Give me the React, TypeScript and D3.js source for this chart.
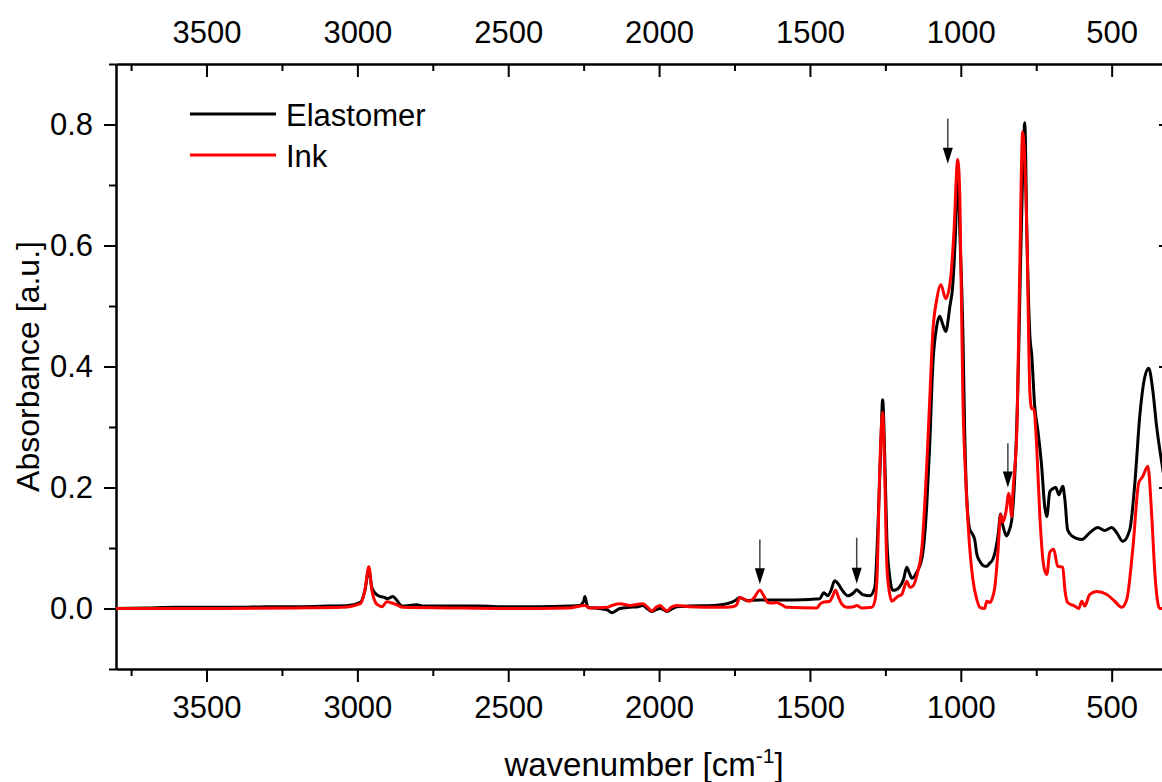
import React, { useEffect, useRef } from 'react';
import * as d3 from 'd3';

// wavenumber [cm-1] / absorbance pairs
const elastomerWn = [3800, 3700, 3600, 3500, 3400, 3300, 3200, 3100, 3030, 2990, 2975, 2962, 2952, 2942, 2925, 2909, 2900, 2882, 2870, 2852, 2803, 2780, 2700, 2600, 2500, 2400, 2300, 2263, 2250, 2246, 2240, 2236, 2200, 2173, 2156, 2130, 2097, 2070, 2054, 2040, 2024, 2010, 1997, 1985, 1974, 1955, 1941, 1900, 1822, 1775, 1756, 1745, 1733, 1722, 1710, 1666, 1600, 1500, 1467, 1460, 1454, 1441, 1430, 1418, 1405, 1394, 1374, 1355, 1345, 1335, 1325, 1302, 1285, 1275, 1265, 1259, 1252, 1245, 1235, 1226, 1215, 1202, 1190, 1179, 1170, 1162, 1146, 1128, 1113, 1103, 1093, 1080, 1070, 1060, 1050, 1036, 1027, 1017, 1010, 1003, 993, 987, 980, 970, 964, 954, 947, 937, 921, 914, 904, 894, 877, 868, 861, 851, 848, 841, 831, 821, 811, 805, 795, 788, 781, 771, 765, 755, 745, 732, 722, 715, 705, 695, 685, 675, 662, 655, 646, 632, 599, 573, 546, 523, 500, 483, 463, 440, 423, 407, 390, 377, 364, 351, 337, 320, 300];
const elastomerA = [0.0, 0.001, 0.002, 0.002, 0.002, 0.003, 0.003, 0.004, 0.005, 0.01, 0.03, 0.064, 0.035, 0.026, 0.02, 0.018, 0.016, 0.02, 0.014, 0.004, 0.006, 0.004, 0.004, 0.004, 0.003, 0.003, 0.004, 0.005, 0.012, 0.02, 0.008, 0.002, 0.0, -0.002, -0.007, 0.0, 0.002, 0.003, 0.005, 0.0, -0.005, -0.002, 0.0, -0.002, -0.005, 0.0, 0.003, 0.004, 0.005, 0.008, 0.011, 0.014, 0.018, 0.016, 0.013, 0.014, 0.014, 0.015, 0.016, 0.022, 0.026, 0.021, 0.03, 0.046, 0.04, 0.031, 0.021, 0.026, 0.031, 0.027, 0.023, 0.021, 0.035, 0.13, 0.27, 0.345, 0.25, 0.114, 0.05, 0.03, 0.031, 0.036, 0.048, 0.068, 0.058, 0.05, 0.06, 0.085, 0.169, 0.27, 0.4, 0.466, 0.483, 0.47, 0.458, 0.5, 0.532, 0.63, 0.735, 0.62, 0.455, 0.29, 0.18, 0.13, 0.125, 0.114, 0.09, 0.078, 0.07, 0.07, 0.075, 0.081, 0.119, 0.156, 0.138, 0.122, 0.12, 0.127, 0.147, 0.22, 0.36, 0.5, 0.72, 0.803, 0.62, 0.45, 0.42, 0.334, 0.296, 0.235, 0.169, 0.152, 0.193, 0.198, 0.2, 0.188, 0.202, 0.18, 0.13, 0.12, 0.114, 0.125, 0.134, 0.129, 0.134, 0.125, 0.111, 0.13, 0.208, 0.317, 0.383, 0.397, 0.362, 0.301, 0.251, 0.2, 0.16];

const inkWn = [3800, 3500, 3200, 3050, 2990, 2975, 2962, 2952, 2940, 2932, 2919, 2902, 2885, 2869, 2849, 2700, 2500, 2300, 2246, 2230, 2173, 2156, 2130, 2097, 2054, 2040, 2024, 2010, 1997, 1985, 1974, 1960, 1941, 1900, 1800, 1756, 1743, 1733, 1720, 1699, 1685, 1666, 1652, 1640, 1625, 1610, 1590, 1577, 1477, 1465, 1457, 1434, 1425, 1415, 1405, 1394, 1378, 1355, 1345, 1328, 1295, 1285, 1278, 1268, 1259, 1252, 1245, 1236, 1229, 1209, 1196, 1179, 1169, 1159, 1143, 1129, 1113, 1103, 1093, 1080, 1066, 1050, 1033, 1023, 1010, 1003, 993, 983, 974, 960, 947, 937, 921, 914, 904, 897, 887, 877, 868, 861, 851, 841, 831, 828, 814, 805, 795, 781, 771, 765, 758, 748, 738, 725, 715, 705, 692, 679, 662, 655, 646, 622, 609, 599, 589, 573, 549, 516, 490, 467, 450, 430, 410, 397, 380, 367, 357, 341, 300];
const inkA = [0.0, 0.0, 0.001, 0.002, 0.008, 0.03, 0.069, 0.03, 0.01, 0.006, 0.003, 0.011, 0.009, 0.006, 0.002, 0.001, 0.0, 0.001, 0.005, 0.001, 0.002, 0.005, 0.008, 0.005, 0.008, 0.003, -0.004, 0.002, 0.005, 0.0, -0.004, 0.002, 0.005, 0.003, 0.002, 0.003, 0.006, 0.018, 0.016, 0.012, 0.018, 0.03, 0.02, 0.01, 0.009, 0.01, 0.005, 0.002, 0.001, 0.008, 0.01, 0.012, 0.02, 0.03, 0.018, 0.007, 0.002, 0.003, 0.005, 0.001, 0.002, 0.012, 0.048, 0.24, 0.324, 0.22, 0.07, 0.025, 0.012, 0.02, 0.023, 0.045, 0.035, 0.037, 0.06, 0.1, 0.235, 0.345, 0.455, 0.51, 0.535, 0.512, 0.549, 0.62, 0.742, 0.676, 0.345, 0.208, 0.125, 0.048, 0.015, 0.002, 0.0, 0.012, 0.01, 0.015, 0.036, 0.093, 0.155, 0.142, 0.158, 0.19, 0.152, 0.185, 0.296, 0.55, 0.787, 0.62, 0.357, 0.33, 0.33, 0.263, 0.152, 0.07, 0.056, 0.093, 0.098, 0.07, 0.068, 0.031, 0.01, 0.004, 0.0, 0.012, 0.004, 0.023, 0.028, 0.023, 0.012, 0.002, 0.015, 0.098, 0.208, 0.218, 0.235, 0.152, 0.06, 0.0, 0.0];

const seriesNames = ['Elastomer', 'Ink'];
const seriesColors = ['#000000', '#ff0000'];

// marked bands
const arrowWn = [1666, 1345, 1043, 844];
const arrowTop = [0.114, 0.117, 0.81, 0.273];
const arrowTip = [0.04, 0.041, 0.735, 0.2];

const xMajor = [3500, 3000, 2500, 2000, 1500, 1000, 500];
const xMinor = [3750, 3250, 2750, 2250, 1750, 1250, 750];
const yMajor = [0.0, 0.2, 0.4, 0.6, 0.8];
const yMinor = [-0.1, 0.1, 0.3, 0.5, 0.7, 0.9];

const FONT = '"Liberation Sans", Arial, sans-serif';

export default function App() {
  const ref = useRef<SVGSVGElement>(null);

  useEffect(() => {
    const svg = d3.select(ref.current);
    svg.selectAll('*').remove();

    const left = 116, right = 1172, top = 64, bottom = 669;

    const x = d3.scaleLinear().domain([3800, 300]).range([left, right]);
    const y = d3.scaleLinear().domain([-0.1, 0.9]).range([bottom, top]);

    const styleAxis = (g: any) => {
      g.select('.domain').attr('stroke', '#000').attr('stroke-width', 2);
      g.selectAll('.tick line').attr('stroke', '#000').attr('stroke-width', 2);
      g.selectAll('text').attr('font-family', FONT).attr('font-size', 31).attr('fill', '#000');
    };

    // bottom
    svg.append('g').attr('transform', `translate(0,${bottom})`)
      .call(d3.axisBottom(x).tickValues(xMajor).tickSize(13).tickSizeOuter(0).tickPadding(14).tickFormat(d3.format('d')))
      .call(styleAxis);
    svg.append('g').attr('transform', `translate(0,${bottom})`)
      .call(d3.axisBottom(x).tickValues(xMinor).tickSize(7).tickSizeOuter(0).tickFormat(() => ''))
      .call(styleAxis);

    // top
    svg.append('g').attr('transform', `translate(0,${top})`)
      .call(d3.axisTop(x).tickValues(xMajor).tickSize(-13).tickSizeOuter(0).tickPadding(21).tickFormat(d3.format('d')))
      .call(styleAxis);
    svg.append('g').attr('transform', `translate(0,${top})`)
      .call(d3.axisTop(x).tickValues(xMinor).tickSize(-7).tickSizeOuter(0).tickFormat(() => ''))
      .call(styleAxis);

    // left
    svg.append('g').attr('transform', `translate(${left},0)`)
      .call(d3.axisLeft(y).tickValues(yMajor).tickSize(12).tickSizeOuter(0).tickPadding(11).tickFormat(d3.format('.1f')))
      .call(styleAxis);
    svg.append('g').attr('transform', `translate(${left},0)`)
      .call(d3.axisLeft(y).tickValues(yMinor).tickSize(7).tickSizeOuter(0).tickFormat(() => ''))
      .call(styleAxis);

    // right
    svg.append('g').attr('transform', `translate(${right},0)`)
      .call(d3.axisRight(y).tickValues(yMajor).tickSize(-13).tickSizeOuter(0).tickFormat(() => ''))
      .call(styleAxis);
    svg.append('g').attr('transform', `translate(${right},0)`)
      .call(d3.axisRight(y).tickValues(yMinor).tickSize(-7).tickSizeOuter(0).tickFormat(() => ''))
      .call(styleAxis);

    // spectra
    const line = d3.line<[number, number]>()
      .x(d => x(d[0]))
      .y(d => y(d[1]))
      .curve(d3.curveMonotoneX);

    const series: [number, number][][] = [
      elastomerWn.map((w, i) => [w, elastomerA[i]]),
      inkWn.map((w, i) => [w, inkA[i]]),
    ];

    series.forEach((s, i) => {
      svg.append('path')
        .datum(s)
        .attr('d', line)
        .attr('fill', 'none')
        .attr('stroke', seriesColors[i])
        .attr('stroke-width', 3)
        .attr('stroke-linejoin', 'round');
    });

    // arrows
    arrowWn.forEach((w, i) => {
      const ax = x(w);
      const yTip = y(arrowTip[i]);
      const yTop = y(arrowTop[i]);
      svg.append('line')
        .attr('x1', ax).attr('x2', ax)
        .attr('y1', yTop).attr('y2', yTip - 14)
        .attr('stroke', '#444').attr('stroke-width', 1.5);
      svg.append('path')
        .attr('d', `M${ax - 5},${yTip - 16} L${ax + 5},${yTip - 16} L${ax},${yTip} Z`)
        .attr('fill', '#000');
    });

    // legend
    const legend = svg.append('g');
    seriesNames.forEach((name, i) => {
      const ly = 114 + i * 41;
      legend.append('line')
        .attr('x1', 190).attr('x2', 276)
        .attr('y1', ly).attr('y2', ly)
        .attr('stroke', seriesColors[i]).attr('stroke-width', 3);
      legend.append('text')
        .attr('x', 286).attr('y', ly + 12)
        .attr('font-family', FONT).attr('font-size', 31)
        .text(name);
    });

    // axis titles
    svg.append('text')
      .attr('transform', `translate(39,${(top + bottom) / 2}) rotate(-90)`)
      .attr('text-anchor', 'middle')
      .attr('font-family', FONT).attr('font-size', 32)
      .text('Absorbance [a.u.]');

    const xt = svg.append('text')
      .attr('x', (left + right) / 2).attr('y', 776)
      .attr('text-anchor', 'middle')
      .attr('font-family', FONT).attr('font-size', 33);
    xt.append('tspan').text('wavenumber [cm');
    xt.append('tspan').attr('font-size', 21).attr('dy', -13).text('-1');
    xt.append('tspan').attr('dy', 13).text(']');
  }, []);

  return (
    <div style={{ position: 'absolute', left: 0, top: 0 }}>
      <svg ref={ref} width={1162} height={782} style={{ display: 'block', background: '#fff' }} />
    </div>
  );
}
